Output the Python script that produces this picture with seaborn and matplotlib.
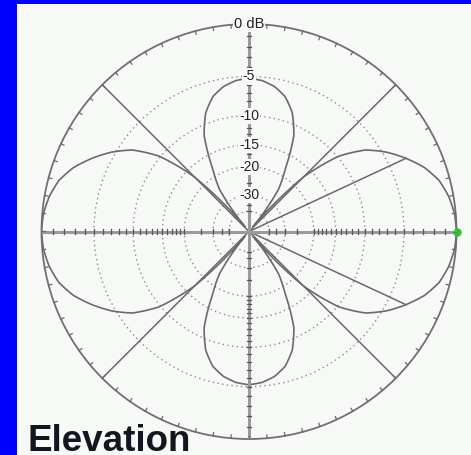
import numpy as np
import pandas as pd
import matplotlib
matplotlib.use("Agg")
import matplotlib.pyplot as plt
from matplotlib.patches import Rectangle
import seaborn as sns

# Elevation pattern: gain in dB every 5 degrees (0 = horizon to the right)
angles_deg = list(range(0, 365, 5))
gain_db = [
    0.0, -0.1, -0.4, -0.9, -1.8, -3.1, -4.6, -6.5, -9.8, -17.0,
    -60.0, -24.0, -18.0, -11.5, -8.5, -6.8, -5.9, -5.4, -5.2,
    -5.4, -5.9, -6.8, -8.5, -11.5, -18.0, -24.0, -60.0, -17.0,
    -9.8, -6.5, -4.6, -3.1, -1.8, -0.9, -0.4, -0.1, 0.0,
    -0.1, -0.4, -0.9, -1.8, -3.1, -4.6, -6.5, -9.8, -17.0,
    -60.0, -24.0, -18.0, -11.5, -8.5, -6.8, -5.9, -5.4, -5.2,
    -5.4, -5.9, -6.8, -8.5, -11.5, -18.0, -24.0, -60.0, -17.0,
    -9.8, -6.5, -4.6, -3.1, -1.8, -0.9, -0.4, -0.1, 0.0,
]

# Grid rings and their labels
ring_db = [-5, -10, -15, -20, -30, -40]
ring_labels = ["-5", "-10", "-15", "-20", "-30"]
max_label = "0 dB"
title_text = "Elevation"

# -3 dB beamwidth markers
beam_deg = [25, -25]
beam_db = [-3.1, -3.1]

# Radial dB ticks along the axes
axis_tick_db = list(range(-1, -21, -1)) + [-25, -30, -35, -40]


def arrl(db):
    """ARRL log radial scale: 0 dB at the rim."""
    return 0.89 ** (-np.asarray(db, dtype=float) / 2.0)


PANEL = "#f7f9f7"
LINE = "#6a6a6a"
GRID = "#8c8c8c"

W, H = 471, 455
fig = plt.figure(figsize=(W / 100, H / 100), dpi=100, facecolor="#0000ff")
fig.patches.append(Rectangle((17 / W, 0), 1 - 17 / W, (H - 4) / H,
                             transform=fig.transFigure, facecolor=PANEL,
                             edgecolor="none", zorder=-10))

cx, cy, R = 249, 231.5, 207.5
rect = [(cx - R) / W, (H - cy - R) / H, 2 * R / W, 2 * R / H]

ax = fig.add_axes(rect, projection="polar")
ax.set_facecolor(PANEL)
ax.set_theta_zero_location("E")
ax.set_theta_direction(1)
ax.set_ylim(0, 1)
ax.set_xticks([])
ax.set_yticks(arrl(ring_db))
ax.set_yticklabels([])
ax.yaxis.grid(True, color=GRID, linestyle=(0, (1, 2.4)), linewidth=1.0)
ax.spines["polar"].set_color("#707070")
ax.spines["polar"].set_linewidth(1.3)

df = pd.DataFrame({"theta": np.deg2rad(angles_deg), "r": arrl(gain_db)})
sns.lineplot(data=df, x="theta", y="r", ax=ax, sort=False, color=LINE,
             linewidth=1.2, estimator=None)
ax.set_xlabel("")
ax.set_ylabel("")
# draw each segment as a polar arc rather than a straight chord
for ln in ax.lines:
    ln.get_path()._interpolation_steps = 12

# 45-degree reference lines
for d in [45, 135, 225, 315]:
    t = np.deg2rad(d)
    ax.plot([t, t], [0, 1], color=LINE, lw=1.1, zorder=3)

# beamwidth lines to the -3 dB points
for d, g in zip(beam_deg, beam_db):
    t = np.deg2rad(d)
    ax.plot([t, t], [0, arrl(g)], color=LINE, lw=1.1, zorder=3)

ax.plot([0], [1.0], "o", color="#2fc22f", ms=5, clip_on=False, zorder=6)

# Overlay for axes, ticks and labels
ax2 = fig.add_axes(rect)
ax2.set_xlim(-1, 1)
ax2.set_ylim(-1, 1)
ax2.axis("off")
ax2.patch.set_alpha(0)

ax2.plot([-1, 1], [0, 0], color="#9a9a9a", lw=2.2, zorder=2)
ax2.plot([0, 0], [-1, 1], color="#9a9a9a", lw=2.2, zorder=2)
h = 0.010
for r in arrl(axis_tick_db):
    for s in (1, -1):
        ax2.plot([s * r, s * r], [-h, h], color="#555555", lw=0.9, zorder=3)
        ax2.plot([-h, h], [s * r, s * r], color="#555555", lw=0.9, zorder=3)

# rim ticks every 5 degrees
for d in range(0, 360, 5):
    t = np.deg2rad(d)
    r0 = 0.984
    ax2.plot([r0 * np.cos(t), np.cos(t)], [r0 * np.sin(t), np.sin(t)],
             color="#6a6a6a", lw=0.9, zorder=3)

box = dict(boxstyle="square,pad=0.08", fc=PANEL, ec="none")
for lab, db in zip(ring_labels, ring_db):
    ax2.text(0, arrl(db), lab, ha="center", va="center", fontsize=10,
             family="Liberation Sans", color="#222222", bbox=box, zorder=5)
ax2.text(0, 1.0, max_label, ha="center", va="center", fontsize=10.5,
         family="Liberation Sans", color="#222222", bbox=box, zorder=5)

fig.text(28 / W, 4 / H, title_text, ha="left", va="baseline", fontsize=26.5,
         fontweight="bold", family="Liberation Sans", color="#15151f")

fig.savefig("out.png", dpi=100, facecolor=fig.get_facecolor())
